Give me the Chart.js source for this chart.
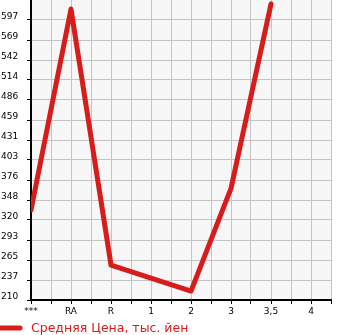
<!DOCTYPE html>
<html>
<head>
<meta charset="utf-8">
<script src="https://cdn.jsdelivr.net/npm/chart.js@4"></script>
<style>
  html, body { margin: 0; padding: 0; background: #fff; }
  #wrap { width: 345px; height: 335px; position: relative; }
</style>
</head>
<body>
<div id="wrap"><canvas id="chart"></canvas></div>
<script>
// chart data
const categories = ['***', 'RA', 'R', '1', '2', '3', '3,5', '4'];
const avgPrice = [334, 612, 258, null, 222, 364, 619, null];
const yTickLabels = ['210', '237', '265', '293', '320', '348', '376', '403', '431', '459', '486', '514', '542', '569', '597'];
const yMin = 209.6;
const yStep = 27.66;
const seriesLabel = 'Средняя Цена, тыс. йен';

const RED = '#d71c1c';
const FONT = '"DejaVu Sans", sans-serif';

const plotBackground = {
  id: 'plotBackground',
  beforeDraw(chart) {
    const { ctx, chartArea: a } = chart;
    ctx.save();
    ctx.fillStyle = '#f7f7f7';
    ctx.fillRect(a.left, a.top, a.right - a.left, a.bottom - a.top);
    ctx.restore();
  }
};

const bottomLegend = {
  id: 'bottomLegend',
  afterDraw(chart) {
    const { ctx } = chart;
    ctx.save();
    ctx.strokeStyle = RED;
    ctx.lineWidth = 5;
    ctx.lineCap = 'round';
    ctx.beginPath();
    ctx.moveTo(-4, 328);
    ctx.lineTo(20, 328);
    ctx.stroke();
    ctx.fillStyle = RED;
    ctx.font = '12.5px ' + FONT;
    ctx.textBaseline = 'alphabetic';
    ctx.fillText(chart.data.datasets[0].label, 31, 332);
    ctx.restore();
  }
};

new Chart(document.getElementById('chart'), {
  type: 'line',
  data: {
    datasets: [{
      label: seriesLabel,
      data: avgPrice.map((v, i) => ({ x: i, y: v })),
      borderColor: RED,
      backgroundColor: RED,
      borderWidth: 5,
      borderJoinStyle: 'round',
      borderCapStyle: 'round',
      pointRadius: 0,
      spanGaps: true,
      tension: 0
    }]
  },
  options: {
    responsive: true,
    maintainAspectRatio: false,
    animation: false,
    layout: { padding: { left: 1, right: 14, top: 0, bottom: 15 } },
    plugins: {
      legend: { display: false },
      tooltip: { enabled: false }
    },
    scales: {
      x: {
        type: 'linear',
        min: 0,
        max: categories.length - 0.5,
        afterBuildTicks: (scale) => {
          const ticks = [];
          for (let i = 0; i < categories.length * 2; i++) ticks.push({ value: i / 2 });
          scale.ticks = ticks;
        },
        afterFit: (scale) => {
          scale.height = 20;
          scale.paddingLeft = 0;
          scale.paddingRight = 0;
        },
        ticks: {
          autoSkip: false,
          maxRotation: 0,
          padding: 2,
          color: '#000',
          font: { family: FONT, size: 9 },
          callback: (value) => Number.isInteger(value) ? categories[value] : ''
        },
        grid: { color: '#c4c4c4', tickColor: '#000', tickLength: 4, lineWidth: 1 },
        border: { color: '#000', width: 2 }
      },
      y: {
        min: yMin,
        max: yMin + yTickLabels.length * yStep,
        afterBuildTicks: (scale) => {
          scale.ticks = yTickLabels.map((t, i) => ({ value: yMin + i * yStep }));
        },
        afterFit: (scale) => {
          scale.width = 30;
          scale.paddingTop = 0;
          scale.paddingBottom = 0;
        },
        ticks: {
          crossAlign: 'far',
          labelOffset: -3,
          color: '#000',
          font: { family: FONT, size: 9 },
          callback: (value, index) => yTickLabels[index]
        },
        grid: { color: '#c4c4c4', tickColor: '#000', tickLength: 4, lineWidth: 1 },
        border: { color: '#000', width: 2 }
      }
    }
  },
  plugins: [plotBackground, bottomLegend]
});
</script>
</body>
</html>
